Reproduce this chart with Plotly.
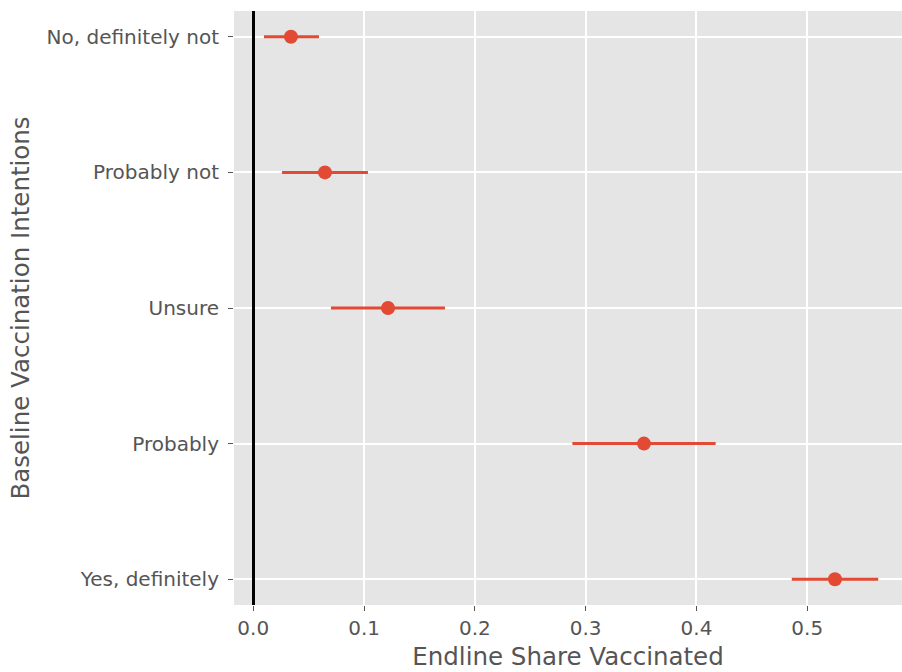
import plotly.graph_objects as go

# Baseline intention categories (top to bottom) and endline vaccination share
categories = ["No, definitely not", "Probably not", "Unsure", "Probably", "Yes, definitely"]
share = [0.034, 0.0647, 0.1216, 0.3526, 0.525]
ci_low = [0.0097, 0.0259, 0.0701, 0.288, 0.486]
ci_high = [0.0593, 0.1035, 0.173, 0.4173, 0.564]

x_ticks = [0.0, 0.1, 0.2, 0.3, 0.4, 0.5]
x_tick_labels = ["0.0", "0.1", "0.2", "0.3", "0.4", "0.5"]

RED = "#E24A33"
FONT = "DejaVu Sans"

fig = go.Figure()

fig.add_trace(go.Scatter(
    x=share,
    y=categories,
    mode="markers",
    marker=dict(color=RED, size=14, line=dict(width=0)),
    error_x=dict(
        type="data",
        symmetric=False,
        array=[h - s for h, s in zip(ci_high, share)],
        arrayminus=[s - l for s, l in zip(share, ci_low)],
        color=RED,
        thickness=3,
        width=0,
    ),
    showlegend=False,
))

fig.update_layout(
    width=902,
    height=672,
    margin=dict(l=234, r=0, t=11, b=67),
    paper_bgcolor="white",
    plot_bgcolor="#E5E5E5",
    font=dict(family=FONT, color="#555555", size=20),
    xaxis=dict(
        range=[-0.0174, 0.5855],
        tickvals=x_ticks,
        ticktext=x_tick_labels,
        showgrid=True,
        gridcolor="white",
        gridwidth=1.6,
        zeroline=True,
        zerolinecolor="black",
        zerolinewidth=2.5,
        ticks="outside",
        ticklen=5,
        tickwidth=1.2,
        tickcolor="#555555",
        tickfont=dict(size=20, color="#555555"),
        title=dict(text="Endline Share Vaccinated", font=dict(size=24.5, color="#555555"), standoff=8),
        showline=False,
    ),
    yaxis=dict(
        type="category",
        categoryorder="array",
        categoryarray=categories,
        range=[4.19, -0.19],
        showgrid=True,
        gridcolor="white",
        gridwidth=1.6,
        zeroline=False,
        ticks="outside",
        ticklen=5,
        tickwidth=1.2,
        tickcolor="#555555",
        ticklabelstandoff=5,
        tickfont=dict(size=20, color="#555555"),
        title=dict(text="Baseline Vaccination Intentions", font=dict(size=24.5, color="#555555"), standoff=10),
        showline=False,
    ),
)

fig.write_html("out.html")
